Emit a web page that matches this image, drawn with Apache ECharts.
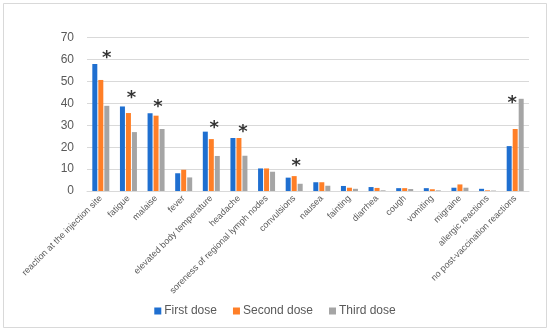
<!DOCTYPE html>
<html>
<head>
<meta charset="utf-8">
<script src="https://cdn.jsdelivr.net/npm/echarts@6/dist/echarts.min.js"></script>
<style>html,body{margin:0;padding:0;background:#fff}#c{width:550px;height:332px}</style>
</head>
<body>
<div id="c"></div>
<script>
var categories = ["reaction at the injection site","fatigue","malaise","fever","elevated body temperature","headache","soreness of regional lymph nodes","convulsions","nausea","fainting","diarrhea","cough","vomiting","migraine","allergic reactions","no post-vaccination reactions"];
var firstDose  = [58.0, 38.6, 35.5, 8.1, 27.1, 24.2, 10.3, 6.1, 4.0, 2.3, 1.8, 1.3, 1.3, 1.5, 1.0, 20.5];
var secondDose = [50.7, 35.6, 34.4, 9.7, 23.7, 24.2, 10.3, 6.8, 4.0, 1.5, 1.4, 1.3, 0.8, 3.0, 0.3, 28.3];
var thirdDose  = [38.9, 26.9, 28.3, 6.2, 16.0, 16.1, 8.8, 3.3, 2.4, 1.0, 0.3, 0.9, 0.3, 1.5, 0.2, 42.1];
var asterisks  = [62.6, 44.3, 40.2, '-', 30.6, 28.8, '-', 13.2, '-', '-', '-', '-', '-', '-', '-', 42.0];
var yTicks = {min: 0, max: 70, interval: 10};

var chart = echarts.init(document.getElementById('c'), null, {renderer: 'canvas'});
var font = 'Liberation Sans Narrow, Liberation Sans, sans-serif';
var labelColor = '#595959';
var starShift = [6, 3, 2, 0, 3, 4, 0, 2, 0, 0, 0, 0, 0, 0, 0, -3];
function barSeries(name, data, color) {
  return {name: name, type: 'bar', data: data, barWidth: 5, barGap: '20%',
    itemStyle: {color: color}, emphasis: {disabled: true}};
}
chart.setOption({
  animation: false,
  backgroundColor: '#fff',
  graphic: [{type: 'rect', shape: {x: 3.5, y: 3.5, width: 543, height: 324},
    style: {fill: 'none', stroke: '#d9d9d9', lineWidth: 1}}],
  grid: {left: 87, right: 21, top: 37.7, bottom: 141},
  legend: {top: 300, left: 'center', itemWidth: 7, itemHeight: 7, itemGap: 16,
    icon: 'rect', data: ['First dose', 'Second dose', 'Third dose'],
    textStyle: {fontSize: 12, color: labelColor, fontFamily: 'Liberation Sans, sans-serif', padding: [0,0,0,-2]}},
  xAxis: {type: 'category', data: categories,
    axisLine: {lineStyle: {color: '#d9d9d9'}}, axisTick: {show: false},
    axisLabel: {interval: 0, rotate: 45, fontSize: 9, color: labelColor, fontFamily: font, margin: 6}},
  yAxis: {type: 'value', min: yTicks.min, max: yTicks.max, interval: yTicks.interval,
    axisLine: {show: false}, axisTick: {show: false},
    axisLabel: {fontSize: 12, color: labelColor, margin: 13, fontFamily: 'Liberation Sans, sans-serif'},
    splitLine: {lineStyle: {color: '#d9d9d9'}}},
  series: [
    barSeries('First dose', firstDose, '#1f6fd0'),
    barSeries('Second dose', secondDose, '#ff7f27'),
    barSeries('Third dose', thirdDose, '#a5a5a5'),
    {name: 'sig', type: 'scatter', symbolSize: 0, silent: true,
      data: asterisks.map(function (v, i) {
        return {value: v, label: {offset: [starShift[i], 4]}};
      }),
      label: {show: true, formatter: '*', position: 'inside',
        fontSize: 18, fontWeight: 'bold', color: '#000', fontFamily: 'DejaVu Sans, sans-serif'}}
  ]
});
</script>
</body>
</html>
